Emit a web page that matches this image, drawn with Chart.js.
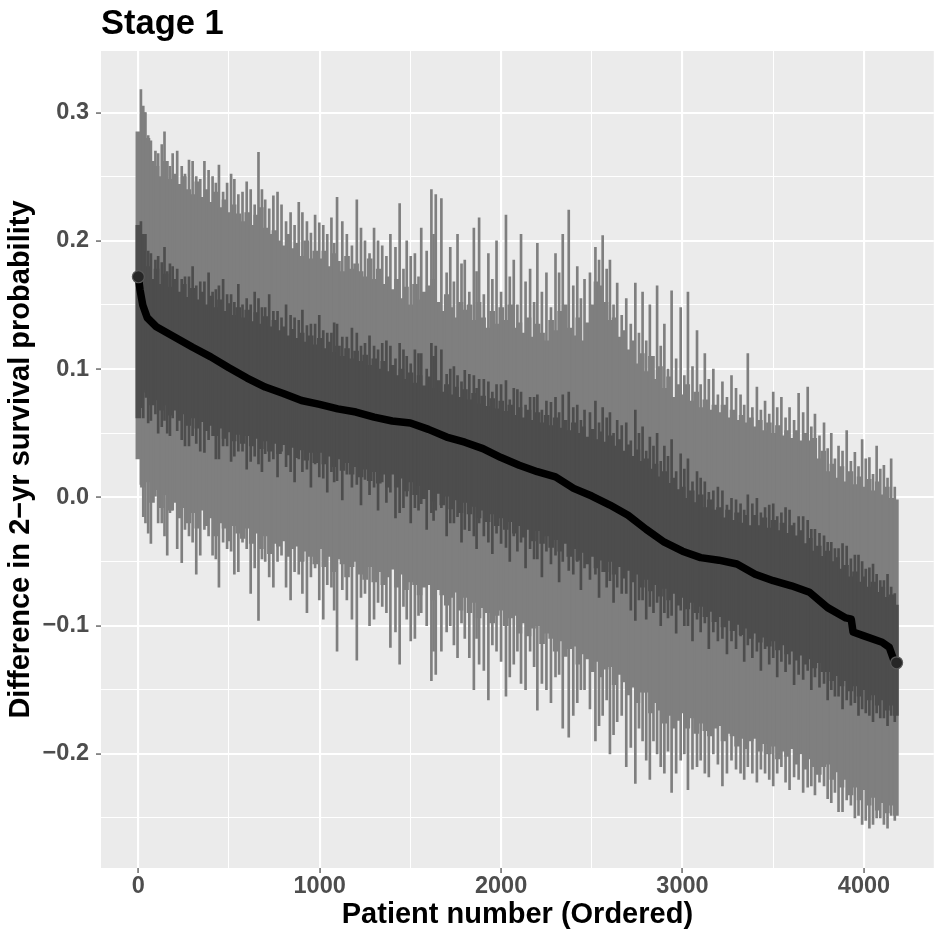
<!DOCTYPE html>
<html>
<head>
<meta charset="utf-8">
<title>Stage 1</title>
<script src="https://cdn.jsdelivr.net/npm/chart.js@4.4.1/dist/chart.umd.min.js"></script>
<style>
  html, body { margin: 0; padding: 0; background: #ffffff; }
  canvas { display: block; }
</style>
</head>
<body>
<canvas id="stageChart" width="941" height="941"></canvas>
<script>
// ---- data ----
// patients are ranked 1..4180; the bulk of the bands is one sampled patient every 25 ranks
const patientRank = [];
for (let r = 1; r <= 4180; r += 25) patientRank.push(r);

// wide (light) interval of the sampled patients
const outerHi = [
  0.285, 0.300, 0.280, 0.262, 0.258, 0.250, 0.262, 0.248,
  0.252, 0.244, 0.250, 0.240, 0.236, 0.246, 0.234, 0.240,
  0.230, 0.238, 0.226, 0.232, 0.222, 0.228, 0.221, 0.215,
  0.222, 0.212, 0.220, 0.226, 0.210, 0.205, 0.208, 0.200,
  0.196, 0.205, 0.194, 0.198, 0.188, 0.200, 0.186, 0.192,
  0.186, 0.192, 0.180, 0.190, 0.184, 0.176, 0.188, 0.178,
  0.182, 0.176, 0.172, 0.186, 0.170, 0.178, 0.166, 0.172,
  0.162, 0.170, 0.155, 0.164, 0.150, 0.166, 0.154, 0.160,
  0.165, 0.170, 0.152, 0.145, 0.158, 0.148, 0.140, 0.152,
  0.146, 0.150, 0.138, 0.152, 0.140, 0.132, 0.145, 0.135,
  0.148, 0.138, 0.150, 0.132, 0.136, 0.128, 0.140, 0.125,
  0.135, 0.128, 0.122, 0.138, 0.130, 0.145, 0.150, 0.132,
  0.126, 0.140, 0.122, 0.136, 0.150, 0.168, 0.165, 0.152,
  0.138, 0.140, 0.125, 0.130, 0.115, 0.122, 0.104, 0.112,
  0.098, 0.110, 0.092, 0.102, 0.085, 0.094, 0.078, 0.088,
  0.080, 0.088, 0.075, 0.082, 0.070, 0.076, 0.068, 0.072,
  0.066, 0.072, 0.062, 0.068, 0.060, 0.064, 0.058, 0.062,
  0.055, 0.060, 0.052, 0.058, 0.050, 0.056, 0.048, 0.052,
  0.046, 0.052, 0.044, 0.050, 0.044, 0.046, 0.030, 0.036,
  0.020, 0.026, 0.015, 0.024, 0.012, 0.020, 0.010, 0.016,
  0.008, 0.014, 0.005, 0.012, 0.002, 0.008, 0.000, -0.002
];
const outerLo = [
  0.030, 0.008, 0.012, -0.004, 0.006, -0.008, 0.002, -0.010,
  -0.004, -0.016, -0.008, -0.020, -0.012, -0.024, -0.010, -0.022,
  -0.016, -0.030, -0.020, -0.024, -0.034, -0.022, -0.028, -0.032,
  -0.024, -0.036, -0.028, -0.040, -0.030, -0.044, -0.036, -0.038,
  -0.034, -0.046, -0.040, -0.038, -0.050, -0.042, -0.046, -0.052,
  -0.040, -0.054, -0.046, -0.058, -0.048, -0.052, -0.062, -0.054,
  -0.050, -0.060, -0.064, -0.054, -0.066, -0.058, -0.068, -0.062,
  -0.056, -0.070, -0.060, -0.072, -0.066, -0.068, -0.076, -0.070,
  -0.068, -0.080, -0.072, -0.076, -0.084, -0.078, -0.074, -0.088,
  -0.078, -0.090, -0.082, -0.094, -0.086, -0.090, -0.098, -0.092,
  -0.088, -0.100, -0.094, -0.092, -0.106, -0.098, -0.108, -0.102,
  -0.100, -0.114, -0.106, -0.110, -0.120, -0.112, -0.124, -0.118,
  -0.116, -0.130, -0.122, -0.126, -0.136, -0.128, -0.140, -0.134,
  -0.132, -0.146, -0.138, -0.144, -0.154, -0.148, -0.160, -0.152,
  -0.152, -0.168, -0.160, -0.166, -0.176, -0.170, -0.180, -0.174,
  -0.168, -0.180, -0.172, -0.184, -0.176, -0.182, -0.186, -0.180,
  -0.178, -0.190, -0.184, -0.186, -0.194, -0.188, -0.196, -0.190,
  -0.188, -0.198, -0.192, -0.200, -0.194, -0.204, -0.198, -0.202,
  -0.196, -0.208, -0.200, -0.212, -0.204, -0.210, -0.216, -0.210,
  -0.208, -0.220, -0.214, -0.226, -0.220, -0.232, -0.226, -0.236,
  -0.228, -0.240, -0.234, -0.244, -0.238, -0.246, -0.240, -0.248
];

// narrow (dark) interval of the sampled patients
const innerHi = [
  0.212, 0.192, 0.180, 0.170, 0.178, 0.166, 0.174, 0.164,
  0.170, 0.160, 0.166, 0.156, 0.163, 0.154, 0.160, 0.150,
  0.157, 0.148, 0.154, 0.145, 0.151, 0.142, 0.148, 0.140,
  0.146, 0.137, 0.144, 0.135, 0.141, 0.133, 0.138, 0.130,
  0.133, 0.126, 0.131, 0.124, 0.128, 0.121, 0.126, 0.119,
  0.124, 0.116, 0.121, 0.113, 0.118, 0.110, 0.116, 0.108,
  0.114, 0.106, 0.111, 0.103, 0.108, 0.100, 0.106, 0.098,
  0.103, 0.095, 0.100, 0.092, 0.097, 0.089, 0.095, 0.087,
  0.094, 0.085, 0.091, 0.082, 0.088, 0.080, 0.086, 0.078,
  0.084, 0.076, 0.081, 0.073, 0.079, 0.071, 0.077, 0.069,
  0.075, 0.067, 0.072, 0.064, 0.070, 0.062, 0.068, 0.060,
  0.066, 0.058, 0.064, 0.056, 0.062, 0.054, 0.060, 0.052,
  0.058, 0.050, 0.055, 0.047, 0.053, 0.045, 0.051, 0.043,
  0.048, 0.040, 0.045, 0.036, 0.041, 0.032, 0.037, 0.028,
  0.030, 0.022, 0.026, 0.016, 0.020, 0.011, 0.015, 0.006,
  0.008, 0.000, 0.005, -0.004, 0.002, -0.008, -0.002, -0.010,
  -0.008, -0.016, -0.010, -0.018, -0.012, -0.020, -0.014, -0.022,
  -0.014, -0.022, -0.016, -0.024, -0.018, -0.026, -0.020, -0.028,
  -0.022, -0.030, -0.026, -0.036, -0.032, -0.042, -0.038, -0.046,
  -0.042, -0.050, -0.047, -0.056, -0.053, -0.062, -0.058, -0.066,
  -0.062, -0.070, -0.066, -0.074, -0.070, -0.078, -0.076, -0.084
];
const innerLo = [
  0.062, 0.084, 0.078, 0.072, 0.076, 0.068, 0.072, 0.064,
  0.068, 0.060, 0.065, 0.056, 0.062, 0.054, 0.059, 0.052,
  0.056, 0.048, 0.054, 0.046, 0.051, 0.044, 0.049, 0.042,
  0.048, 0.040, 0.046, 0.038, 0.044, 0.036, 0.042, 0.034,
  0.041, 0.033, 0.039, 0.031, 0.037, 0.029, 0.035, 0.027,
  0.035, 0.026, 0.032, 0.024, 0.030, 0.021, 0.027, 0.018,
  0.024, 0.016, 0.022, 0.013, 0.020, 0.011, 0.018, 0.008,
  0.018, 0.008, 0.015, 0.005, 0.012, 0.002, 0.009, -0.001,
  0.006, -0.003, 0.003, -0.006, 0.000, -0.009, -0.002, -0.012,
  -0.004, -0.013, -0.007, -0.016, -0.010, -0.019, -0.013, -0.022,
  -0.016, -0.025, -0.019, -0.028, -0.022, -0.031, -0.025, -0.034,
  -0.026, -0.036, -0.030, -0.039, -0.033, -0.042, -0.036, -0.046,
  -0.040, -0.049, -0.043, -0.052, -0.046, -0.055, -0.049, -0.058,
  -0.050, -0.060, -0.054, -0.063, -0.057, -0.066, -0.060, -0.070,
  -0.064, -0.073, -0.068, -0.077, -0.071, -0.080, -0.075, -0.084,
  -0.078, -0.087, -0.082, -0.090, -0.085, -0.093, -0.089, -0.097,
  -0.093, -0.101, -0.096, -0.104, -0.099, -0.107, -0.102, -0.110,
  -0.106, -0.113, -0.109, -0.116, -0.112, -0.119, -0.115, -0.122,
  -0.120, -0.127, -0.123, -0.130, -0.126, -0.133, -0.129, -0.136,
  -0.136, -0.143, -0.139, -0.147, -0.143, -0.151, -0.147, -0.155,
  -0.150, -0.158, -0.154, -0.162, -0.158, -0.166, -0.162, -0.170
];

// patients with the widest intervals (tall thin spikes)
const spikeRank = [15, 40, 70, 95, 130, 160, 190, 240, 280, 320, 365, 410, 445, 490,
  530, 575, 620, 663, 700, 745, 790, 840, 885, 930, 975, 1020, 1065, 1096, 1150,
  1205, 1250, 1300, 1345, 1390, 1441, 1480, 1525, 1560, 1616, 1640, 1671, 1720,
  1760, 1800, 1850, 1879, 1930, 1975, 2027, 2070, 2110, 2160, 2200, 2250, 2300,
  2340, 2373, 2420, 2460, 2520, 2560, 2600, 2640, 2690, 2740, 2780, 2820, 2860,
  2900, 2940, 2990, 3030, 3080, 3123, 3170, 3220, 3270, 3320, 3360, 3410, 3455,
  3500, 3545, 3590, 3640, 3690, 3730, 3780, 3820, 3860, 3905, 3950, 3990, 4030,
  4070, 4110, 4150];
const spikeOuterHi = [0.318, 0.300, 0.278, 0.270, 0.275, 0.262, 0.268, 0.258, 0.263,
  0.250, 0.262, 0.250, 0.259, 0.245, 0.248, 0.238, 0.240, 0.269, 0.232, 0.235,
  0.228, 0.222, 0.230, 0.215, 0.220, 0.212, 0.218, 0.234, 0.205, 0.232, 0.200,
  0.210, 0.196, 0.205, 0.229, 0.200, 0.190, 0.210, 0.240, 0.236, 0.233, 0.195,
  0.205, 0.185, 0.210, 0.218, 0.190, 0.200, 0.220, 0.185, 0.205, 0.178, 0.198,
  0.175, 0.190, 0.205, 0.224, 0.180, 0.170, 0.195, 0.204, 0.185, 0.167, 0.155,
  0.167, 0.160, 0.150, 0.165, 0.135, 0.161, 0.148, 0.160, 0.130, 0.112, 0.100,
  0.090, 0.095, 0.080, 0.112, 0.086, 0.075, 0.082, 0.078, 0.070, 0.081, 0.086,
  0.065, 0.058, 0.050, 0.040, 0.052, 0.035, 0.045, 0.031, 0.040, 0.025, 0.030];
const spikeOuterLo = [0.010, -0.020, -0.036, 0.000, -0.020, -0.045, -0.010, -0.051,
  -0.030, -0.060, -0.025, -0.045, -0.070, -0.040, -0.060, -0.035, -0.075, -0.096,
  -0.050, -0.070, -0.045, -0.080, -0.060, -0.090, -0.055, -0.095, -0.070, -0.120,
  -0.080, -0.127, -0.075, -0.095, -0.085, -0.117, -0.130, -0.095, -0.110, -0.090,
  -0.143, -0.138, -0.120, -0.100, -0.125, -0.110, -0.150, -0.130, -0.158, -0.120,
  -0.155, -0.130, -0.145, -0.120, -0.166, -0.150, -0.140, -0.180, -0.187, -0.160,
  -0.150, -0.190, -0.170, -0.200, -0.175, -0.210, -0.223, -0.190, -0.220, -0.200,
  -0.215, -0.230, -0.205, -0.228, -0.210, -0.215, -0.200, -0.225, -0.205, -0.215,
  -0.210, -0.222, -0.215, -0.225, -0.210, -0.228, -0.220, -0.226, -0.232, -0.225,
  -0.238, -0.245, -0.236, -0.250, -0.255, -0.258, -0.250, -0.255, -0.248];
const spikeInnerHi = [0.215, 0.205, 0.190, 0.185, 0.183, 0.176, 0.180, 0.170, 0.172,
  0.165, 0.168, 0.160, 0.165, 0.158, 0.152, 0.150, 0.150, 0.155, 0.148, 0.145,
  0.140, 0.142, 0.138, 0.134, 0.135, 0.130, 0.128, 0.135, 0.125, 0.128, 0.120,
  0.118, 0.120, 0.118, 0.120, 0.110, 0.115, 0.112, 0.120, 0.118, 0.115, 0.100,
  0.095, 0.099, 0.095, 0.092, 0.090, 0.088, 0.091, 0.085, 0.082, 0.078, 0.080,
  0.075, 0.078, 0.080, 0.082, 0.072, 0.068, 0.075, 0.070, 0.066, 0.060, 0.058,
  0.068, 0.055, 0.047, 0.050, 0.040, 0.045, 0.034, 0.030, 0.020, 0.012, 0.005,
  0.005, 0.000, -0.005, 0.002, 0.000, -0.008, -0.005, -0.012, -0.010, -0.015,
  -0.018, -0.025, -0.030, -0.035, -0.040, -0.038, -0.045, -0.050, -0.055, -0.060,
  -0.065, -0.070];
const spikeInnerLo = [0.070, 0.082, 0.060, 0.065, 0.055, 0.050, 0.062, 0.045, 0.040,
  0.042, 0.035, 0.048, 0.030, 0.040, 0.032, 0.036, 0.028, 0.026, 0.034, 0.030,
  0.036, 0.020, 0.030, 0.022, 0.026, 0.015, 0.020, 0.013, 0.018, 0.010, 0.014,
  0.008, 0.012, 0.004, -0.012, 0.000, -0.008, -0.005, -0.012, -0.010, -0.008,
  -0.020, -0.015, -0.025, -0.030, -0.020, -0.035, -0.028, -0.039, -0.030, -0.035,
  -0.040, -0.048, -0.042, -0.045, -0.050, -0.057, -0.050, -0.055, -0.060, -0.058,
  -0.065, -0.070, -0.075, -0.096, -0.080, -0.085, -0.082, -0.090, -0.092, -0.088,
  -0.100, -0.095, -0.098, -0.105, -0.110, -0.112, -0.108, -0.115, -0.120, -0.118,
  -0.125, -0.128, -0.130, -0.138, -0.135, -0.140, -0.145, -0.150, -0.155, -0.158,
  -0.160, -0.165, -0.170, -0.168, -0.172, -0.170];

// patients with medium-wide intervals (shorter thin spikes)
const midRank = [28, 55, 110, 145, 175, 215, 258, 300, 342, 388, 428, 468, 512, 552,
  598, 642, 682, 722, 768, 815, 862, 905, 952, 998, 1042, 1080, 1125, 1178, 1228,
  1275, 1322, 1368, 1418, 1462, 1502, 1545, 1590, 1628, 1700, 1740, 1782, 1825,
  1865, 1905, 1952, 2000, 2048, 2090, 2135, 2182, 2225, 2275, 2320, 2398, 2440,
  2490, 2540, 2582, 2620, 2665, 2715, 2760, 2800, 2840, 2880, 2920, 2965, 3010,
  3055, 3100, 3145, 3195, 3245, 3295, 3340, 3385, 3432, 3478, 3522, 3568, 3615,
  3665, 3710, 3755, 3800, 3840, 3882, 3928, 3970, 4010, 4050, 4090, 4130, 4170];
const midOuterHi = [0.305, 0.282, 0.268, 0.285, 0.258, 0.270, 0.252, 0.262, 0.248,
  0.255, 0.245, 0.238, 0.252, 0.236, 0.246, 0.228, 0.240, 0.225, 0.238, 0.215,
  0.212, 0.222, 0.206, 0.214, 0.205, 0.198, 0.215, 0.196, 0.210, 0.190, 0.200,
  0.188, 0.195, 0.178, 0.188, 0.172, 0.192, 0.205, 0.175, 0.168, 0.182, 0.160,
  0.176, 0.158, 0.170, 0.160, 0.172, 0.150, 0.168, 0.152, 0.160, 0.148, 0.175,
  0.165, 0.155, 0.175, 0.185, 0.178, 0.150, 0.142, 0.135, 0.128, 0.122, 0.110,
  0.118, 0.100, 0.108, 0.095, 0.102, 0.088, 0.092, 0.080, 0.078, 0.085, 0.072,
  0.070, 0.068, 0.065, 0.070, 0.062, 0.060, 0.066, 0.055, 0.048, 0.038, 0.030,
  0.036, 0.028, 0.024, 0.030, 0.018, 0.022, 0.015, 0.008];
const midOuterLo = [-0.015, -0.028, -0.020, -0.030, -0.012, -0.040, -0.025, -0.035,
  -0.045, -0.030, -0.048, -0.035, -0.042, -0.058, -0.040, -0.055, -0.048, -0.062,
  -0.050, -0.070, -0.058, -0.075, -0.062, -0.080, -0.068, -0.088, -0.072, -0.095,
  -0.078, -0.100, -0.082, -0.090, -0.105, -0.085, -0.112, -0.092, -0.100, -0.120,
  -0.105, -0.115, -0.098, -0.125, -0.110, -0.135, -0.115, -0.128, -0.140, -0.120,
  -0.150, -0.132, -0.145, -0.160, -0.138, -0.170, -0.150, -0.165, -0.178, -0.158,
  -0.185, -0.170, -0.195, -0.180, -0.205, -0.190, -0.210, -0.198, -0.215, -0.200,
  -0.212, -0.205, -0.218, -0.208, -0.215, -0.212, -0.220, -0.215, -0.212, -0.220,
  -0.215, -0.222, -0.218, -0.230, -0.225, -0.222, -0.235, -0.230, -0.245, -0.240,
  -0.248, -0.252, -0.255, -0.250, -0.258, -0.252];
const midInnerHi = [0.205, 0.192, 0.188, 0.195, 0.182, 0.178, 0.172, 0.180, 0.168,
  0.175, 0.162, 0.170, 0.158, 0.166, 0.155, 0.160, 0.148, 0.158, 0.145, 0.150,
  0.140, 0.146, 0.135, 0.142, 0.128, 0.136, 0.125, 0.132, 0.118, 0.126, 0.115,
  0.122, 0.108, 0.115, 0.104, 0.112, 0.100, 0.110, 0.096, 0.102, 0.090, 0.096,
  0.085, 0.092, 0.082, 0.088, 0.076, 0.084, 0.072, 0.078, 0.068, 0.074, 0.066,
  0.070, 0.060, 0.066, 0.058, 0.062, 0.050, 0.056, 0.044, 0.050, 0.036, 0.040,
  0.028, 0.032, 0.020, 0.022, 0.012, 0.015, 0.004, 0.008, -0.006, -0.002, -0.010,
  -0.005, -0.012, -0.006, -0.015, -0.008, -0.020, -0.015, -0.025, -0.028, -0.035,
  -0.040, -0.036, -0.048, -0.045, -0.056, -0.052, -0.065, -0.060, -0.075];
const midInnerLo = [0.062, 0.058, 0.050, 0.060, 0.048, 0.052, 0.040, 0.048, 0.036,
  0.045, 0.030, 0.040, 0.028, 0.036, 0.022, 0.032, 0.020, 0.028, 0.016, 0.024,
  0.012, 0.020, 0.008, 0.016, 0.004, 0.012, -0.002, 0.008, -0.006, 0.002, -0.010,
  -0.004, -0.016, -0.008, -0.020, -0.010, -0.025, -0.018, -0.030, -0.020, -0.035,
  -0.026, -0.040, -0.030, -0.044, -0.036, -0.050, -0.042, -0.055, -0.048, -0.062,
  -0.052, -0.066, -0.060, -0.072, -0.064, -0.078, -0.070, -0.082, -0.075, -0.088,
  -0.080, -0.095, -0.090, -0.100, -0.094, -0.106, -0.100, -0.112, -0.105, -0.118,
  -0.112, -0.122, -0.118, -0.128, -0.125, -0.135, -0.130, -0.140, -0.136, -0.146,
  -0.142, -0.150, -0.148, -0.158, -0.155, -0.165, -0.162, -0.170, -0.168, -0.175,
  -0.172, -0.178, -0.175];

// ordered point estimate (black curve)
const estRank = [1, 10, 25, 50, 100, 200, 300, 400, 500, 600, 700, 800, 900, 1000,
  1100, 1200, 1300, 1400, 1500, 1600, 1700, 1800, 1900, 2000, 2100, 2200, 2300,
  2400, 2500, 2600, 2700, 2800, 2900, 3000, 3100, 3200, 3300, 3400, 3500, 3600,
  3700, 3800, 3900, 3930, 3940, 4000, 4100, 4140, 4165, 4180];
const estValue = [0.172, 0.162, 0.150, 0.140, 0.133, 0.125, 0.117, 0.1095, 0.101,
  0.093, 0.086, 0.081, 0.0755, 0.0725, 0.069, 0.0665, 0.0625, 0.0595, 0.058,
  0.053, 0.047, 0.043, 0.038, 0.031, 0.025, 0.020, 0.016, 0.007, 0.001, -0.006,
  -0.014, -0.025, -0.035, -0.042, -0.047, -0.049, -0.052, -0.060, -0.065,
  -0.069, -0.074, -0.086, -0.094, -0.095, -0.105, -0.108, -0.113, -0.117,
  -0.127, -0.129];

// axes
const xTicks = [0, 1000, 2000, 3000, 4000];
const xTickLabels = ["0", "1000", "2000", "3000", "4000"];
const xMinor = [500, 1500, 2500, 3500];
const yTicks = [-0.2, -0.1, 0.0, 0.1, 0.2, 0.3];
const yTickLabels = ["\u22120.2", "\u22120.1", "0.0", "0.1", "0.2", "0.3"];
const yMinor = [-0.25, -0.15, -0.05, 0.05, 0.15, 0.25];

// ---- chart ----
const FONT = "'Liberation Sans', Arial, Helvetica, sans-serif";
const LIGHT = "#7f7f7f";
const DARK = "#4d4d4d";
const xGrid = xTicks.concat(xMinor).sort((a, b) => a - b);
const yGrid = yTicks.concat(yMinor).sort((a, b) => a - b);

const panelBg = {
  id: "panelBg",
  beforeDraw(chart) {
    const { ctx, chartArea: a } = chart;
    ctx.save();
    ctx.fillStyle = "#ebebeb";
    ctx.fillRect(a.left, a.top, a.right - a.left, a.bottom - a.top);
    ctx.restore();
  },
};

const isMajor = (list, ctx) => ctx.tick && list.includes(ctx.tick.value);
const band = (ranks, lo, hi) => ranks.map((r, i) => ({ x: r, y: [lo[i], hi[i]] }));

const estData = estRank.map((r, i) => ({ x: r, y: estValue[i] }));
const endData = [estData[0], estData[estData.length - 1]];

const thinOuter = band(spikeRank, spikeOuterLo, spikeOuterHi).concat(band(midRank, midOuterLo, midOuterHi));
const thinInner = band(spikeRank, spikeInnerLo, spikeInnerHi).concat(band(midRank, midInnerLo, midInnerHi));

const barDefaults = { grouped: false, borderWidth: 0, borderSkipped: false };

new Chart(document.getElementById("stageChart"), {
  type: "bar",
  data: {
    datasets: [
      {
        type: "scatter",
        data: endData,
        order: -1,
        pointRadius: 6,
        pointBackgroundColor: "#262626",
        pointBorderColor: "#595959",
        pointBorderWidth: 1.2,
      },
      {
        type: "line",
        data: estData,
        order: 0,
        borderColor: "#000000",
        borderWidth: 7.5,
        borderJoinStyle: "round",
        borderCapStyle: "round",
        pointRadius: 0,
        tension: 0,
      },
      { ...barDefaults, data: thinInner, order: 1, backgroundColor: DARK, barThickness: 2 },
      { ...barDefaults, data: band(patientRank, innerLo, innerHi), order: 2, backgroundColor: DARK, barThickness: 5 },
      { ...barDefaults, data: thinOuter, order: 3, backgroundColor: LIGHT, barThickness: 2 },
      { ...barDefaults, data: band(patientRank, outerLo, outerHi), order: 4, backgroundColor: LIGHT, barThickness: 5 },
    ],
  },
  options: {
    responsive: false,
    animation: false,
    devicePixelRatio: 1,
    layout: { padding: { left: 0, right: 6, top: 0, bottom: 0 } },
    plugins: {
      legend: { display: false },
      tooltip: { enabled: false },
      title: {
        display: true,
        text: "Stage 1",
        align: "start",
        fullSize: false,
        color: "#000000",
        font: { family: FONT, size: 34.5, weight: "bold" },
        padding: { top: 4, bottom: 5.6 },
      },
    },
    scales: {
      x: {
        type: "linear",
        min: -205,
        max: 4385,
        offset: false,
        afterBuildTicks: (s) => { s.ticks = xGrid.map((v) => ({ value: v })); },
        afterFit: (s) => { s.height = 73; },
        ticks: {
          autoSkip: false,
          maxRotation: 0,
          padding: -1,
          color: "#4d4d4d",
          font: { family: FONT, size: 23.5, weight: "bold" },
          callback: (v) => {
            const k = xTicks.indexOf(v);
            return k >= 0 ? xTickLabels[k] : "";
          },
        },
        grid: {
          offset: false,
          color: "#ffffff",
          lineWidth: (ctx) => (isMajor(xTicks, ctx) ? 2.1 : 1.05),
          tickColor: (ctx) => (isMajor(xTicks, ctx) ? "#333333" : "rgba(0,0,0,0)"),
          tickLength: 5,
          tickWidth: 1.1,
        },
        border: { display: false },
        title: {
          display: true,
          text: "Patient number (Ordered)",
          color: "#000000",
          font: { family: FONT, size: 29, weight: "bold" },
          padding: { top: 0, bottom: 8.6 },
        },
      },
      y: {
        type: "linear",
        min: -0.289,
        max: 0.348,
        afterBuildTicks: (s) => { s.ticks = yGrid.map((v) => ({ value: v })); },
        afterFit: (s) => { s.width = 101; },
        ticks: {
          autoSkip: false,
          padding: 7,
          color: "#4d4d4d",
          font: { family: FONT, size: 23.5, weight: "bold" },
          callback: (v) => {
            const k = yTicks.indexOf(v);
            return k >= 0 ? yTickLabels[k] : "";
          },
        },
        grid: {
          color: "#ffffff",
          lineWidth: (ctx) => (isMajor(yTicks, ctx) ? 2.1 : 1.05),
          tickColor: (ctx) => (isMajor(yTicks, ctx) ? "#333333" : "rgba(0,0,0,0)"),
          tickLength: 5,
          tickWidth: 1.1,
        },
        border: { display: false },
        title: {
          display: true,
          text: "Difference in 2\u2212yr survival probability",
          color: "#000000",
          font: { family: FONT, size: 29, weight: "bold" },
          padding: { top: 3.5, bottom: 0 },
        },
      },
    },
  },
  plugins: [panelBg],
});
</script>
</body>
</html>
